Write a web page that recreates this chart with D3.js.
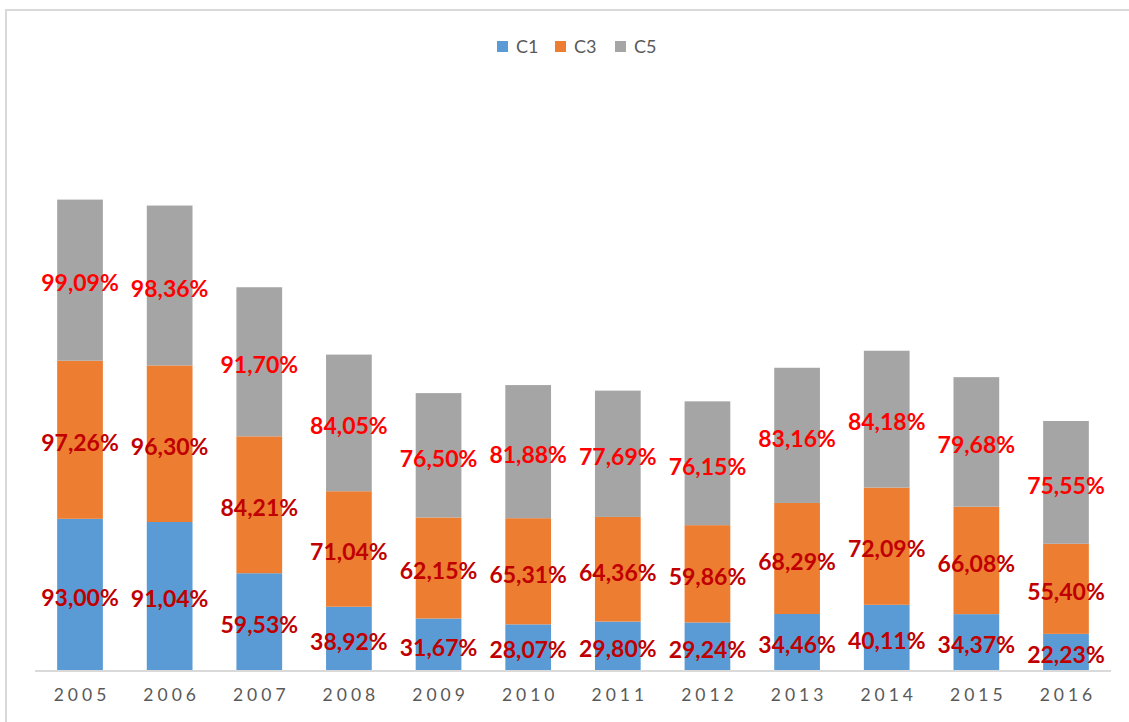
<!DOCTYPE html>
<html>
<head>
<meta charset="utf-8">
<script src="https://cdn.jsdelivr.net/npm/d3@7"></script>
<style>
  body { margin: 0; background: #fff; }
  svg { display: block; }
</style>
</head>
<body>
<svg id="chart" width="1129" height="722"></svg>
<script>
// data
const years = ["2005", "2006", "2007", "2008", "2009", "2010", "2011", "2012", "2013", "2014", "2015", "2016"];
const seriesNames = ["C1", "C3", "C5"];
const c1 = [93.00, 91.04, 59.53, 38.92, 31.67, 28.07, 29.80, 29.24, 34.46, 40.11, 34.37, 22.23];
const c3 = [97.26, 96.30, 84.21, 71.04, 62.15, 65.31, 64.36, 59.86, 68.29, 72.09, 66.08, 55.40];
const c5 = [99.09, 98.36, 91.70, 84.05, 76.50, 81.88, 77.69, 76.15, 83.16, 84.18, 79.68, 75.55];

const colors = { C1: "#5b9bd5", C3: "#ed7d31", C5: "#a5a5a5" };
const labelColors = { C1: "#c00000", C3: "#c00000", C5: "#ff0000" };

const svg = d3.select("#chart");
const width = 1129, height = 722;

// chart area border (Excel-ish)
svg.append("rect")
    .attr("x", 6).attr("y", 10)
    .attr("width", width + 10).attr("height", height + 10)
    .attr("fill", "none")
    .attr("stroke", "#d9d9d9")
    .attr("stroke-width", 2);

const rows = years.map((y, i) => ({ year: y, C1: c1[i], C3: c3[i], C5: c5[i] }));
const stacked = d3.stack().keys(seriesNames)(rows);

const x = d3.scaleBand()
    .domain(years)
    .range([35.2, 1110.8])
    .paddingInner(0.49)
    .paddingOuter(0.245);

const y = d3.scaleLinear()
    .domain([0, 350])
    .range([670, 101]);

const fmt = v => d3.format(".2f")(v).replace(".", ",") + "%";

// bars
const layers = svg.append("g").selectAll("g")
    .data(stacked)
    .enter().append("g")
    .attr("fill", d => colors[d.key]);

layers.selectAll("rect")
    .data(d => d)
    .enter().append("rect")
    .attr("x", d => x(d.data.year))
    .attr("y", d => y(d[1]))
    .attr("width", x.bandwidth())
    .attr("height", d => y(d[0]) - y(d[1]));

// axis line
svg.append("line")
    .attr("x1", 35).attr("x2", 1111)
    .attr("y1", 671).attr("y2", 671)
    .attr("stroke", "#d9d9d9")
    .attr("stroke-width", 2);

// x tick labels
svg.append("g").selectAll("text")
    .data(years)
    .enter().append("text")
    .attr("x", d => x(d) + x.bandwidth() / 2 + 2)
    .attr("y", 701)
    .attr("text-anchor", "middle")
    .attr("fill", "#595959")
    .style("font-family", "Lato, 'Open Sans', sans-serif")
    .style("font-size", "17.5px")
    .style("letter-spacing", "4px")
    .text(d => d);

// value labels, centred in each segment
stacked.forEach(layer => {
    svg.append("g").selectAll("text")
        .data(layer)
        .enter().append("text")
        .attr("x", d => x(d.data.year) + x.bandwidth() / 2)
        .attr("y", d => (y(d[0]) + y(d[1])) / 2 + 3)
        .attr("dy", "0.36em")
        .attr("text-anchor", "middle")
        .attr("fill", labelColors[layer.key])
        .style("font-family", "Lato, 'Open Sans', sans-serif")
        .style("font-weight", "bold")
        .style("font-size", "23px")
        .text(d => fmt(d.data[layer.key]));
});

// legend
const legendX = [497, 555, 615];
const legend = svg.append("g").selectAll("g")
    .data(seriesNames)
    .enter().append("g")
    .attr("transform", (d, i) => "translate(" + legendX[i] + ",41)");

legend.append("rect")
    .attr("width", 11).attr("height", 11)
    .attr("fill", d => colors[d]);

legend.append("text")
    .attr("x", 19).attr("y", 6)
    .attr("dy", "0.36em")
    .attr("fill", "#595959")
    .style("font-family", "Lato, 'Open Sans', sans-serif")
    .style("font-size", "18px")
    .text(d => d);
</script>
</body>
</html>
